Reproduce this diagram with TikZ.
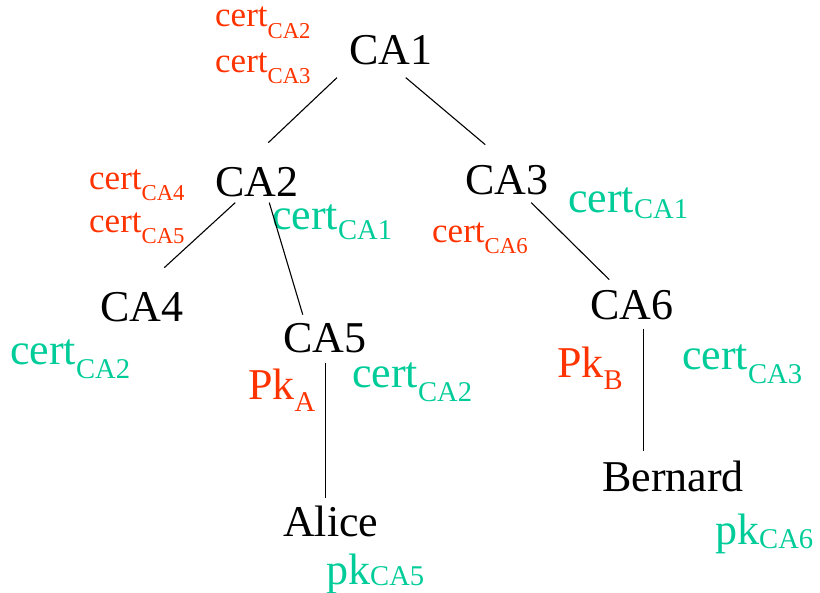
\documentclass[tikz,border=0pt]{standalone}
\usepackage{fontspec}
\setmainfont{Liberation Serif}
\definecolor{certrouge}{HTML}{FF3300}
\definecolor{certvert}{HTML}{00CC99}
\newcommand{\indice}[3][.25em]{#2\raisebox{-#1}{\scalebox{.65}{#3}}}

\begin{document}
\begin{tikzpicture}[x=1pt,y=-1pt,
  every node/.style={anchor=base west,inner sep=0pt,font=\fontsize{44}{50}\selectfont},
  petit/.style={font=\fontsize{35}{40}\selectfont},
  rouge/.style={text=certrouge},
  vert/.style={text=certvert},
  arete/.style={line width=1.1pt}]
\useasboundingbox (0,0) rectangle (820,593);
% l'arbre
\node (ca1) at (349,65) {CA1};
\node (ca2) at (215,197) {CA2};
\node (ca3) at (465,195) {CA3};
\node (ca4) at (100,322) {CA4};
\node (ca5) at (283,353) {CA5};
\node (ca6) at (590,320) {CA6};
\node (alice) at (283,537) {Alice};
\node (bernard) at (602,492) {Bernard};
% certificats
\node[rouge,petit] (ca1c2) at (215,27) {\indice[.34em]{cert}{CA2}};
\node[rouge,petit] (ca1c3) at (215,73) {\indice[.3em]{cert}{CA3}};
\node[rouge,petit] (ca2c4) at (89,190) {\indice[.3em]{cert}{CA4}};
\node[rouge,petit] (ca2c5) at (89,233) {\indice[.3em]{cert}{CA5}};
\node[vert] (ca2c1) at (272,230) {\indice[.22em]{cert}{CA1}};
\node[vert] (ca3c1) at (568,213) {\indice[.12em]{cert}{CA1}};
\node[rouge,petit] (ca3c6) at (432,243) {\indice[.3em]{cert}{CA6}};
\node[vert] (ca4c2) at (10,365) {\indice[.3em]{cert}{CA2}};
\node[rouge] (ca5pk) at (248,400) {\indice[.27em]{Pk}{A}};
\node[vert] (ca5c2) at (352,388) {\indice[.3em]{cert}{CA2}};
\node[rouge] (ca6pk) at (557,378) {\indice[.27em]{Pk}{B}};
\node[vert] (ca6c3) at (682,370) {\indice[.3em]{cert}{CA3}};
\node[vert] (alicepk) at (326,584) {\indice[.03em]{pk}{CA5}};
\node[vert] (bernardpk) at (715,545) {\indice[.07em]{pk}{CA6}};
% aretes
\draw[arete] ([shift={(-12,12)}]ca1.south west) -- ([shift={(11.5,-25)}]ca2.north);
\draw[arete] ([shift={(15,12)}]ca1.south) -- ([shift={(-21.5,-21)}]ca3.north);
\draw[arete] ([shift={(-21.5,5)}]ca2.south) -- ([shift={(22.5,-25)}]ca4.north);
\draw[arete] ([shift={(12.5,5)}]ca2.south) -- ([shift={(-22,-9)}]ca5.north);
\draw[arete] ([shift={(24.5,7)}]ca3.south) -- ([shift={(-22.5,-11)}]ca6.north);
\coordinate (ca5bas) at ([shift={(1,9)}]ca5.south);
\coordinate (ca6bas) at ([shift={(11.5,8)}]ca6.south);
\draw[arete] (ca5bas) -- ([shift={(0,-8)}]ca5bas |- alice.north);
\draw[arete] (ca6bas) -- ([shift={(0,-10)}]ca6bas |- bernard.north);
\end{tikzpicture}
\end{document}
